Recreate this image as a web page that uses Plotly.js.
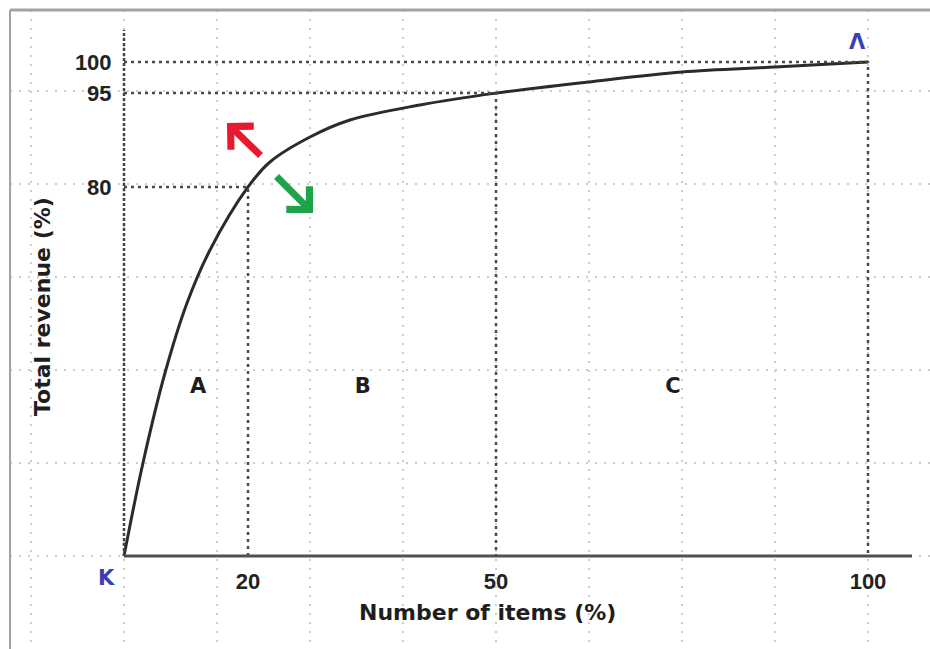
<!DOCTYPE html>
<html>
<head>
<meta charset="utf-8">
<script src="https://cdn.plot.ly/plotly-3.0.1.min.js"></script>
<style>html,body{margin:0;padding:0;background:#fff;}#chart{width:930px;height:649px;}</style>
</head>
<body>
<div id="chart"></div>
<script>
// ---- data (axis units: share of axis length, 0..100) ----
const itemsPct   = [0, 2.55, 5.51, 8.47, 11.56, 16.67, 19.62, 25.0, 30.38, 39.78, 50.0, 62.37, 75.0, 87.5, 100];
const revenuePct = [0, 18.83, 37.04, 51.21, 61.94, 74.7, 79.76, 84.82, 88.26, 91.30, 93.7, 95.95, 97.98, 98.99, 100];

const xTickVals = [16.67, 50, 100];
const xTickText = ['20', '50', '100'];
const yTickVals = [74.7, 93.7, 100];
const yTickText = ['80', '95', '100'];

const zoneLabels = ['A', 'B', 'C'];
const zoneX = [9.95, 32.1, 73.8];
const zoneY = [34, 34, 34];

const xTitle = 'Number of items (%)';
const yTitle = 'Total revenue (%)';
const startLabel = 'K';
const endLabel = 'Λ';

// ---- traces ----
const traces = [];

// threshold reference lines (dark dotted)
for (let i = 0; i < xTickVals.length; i++) {
  traces.push({
    type: 'scatter', mode: 'lines',
    x: [0, xTickVals[i], xTickVals[i]],
    y: [yTickVals[i], yTickVals[i], 0],
    xaxis: 'x2', yaxis: 'y2',
    line: {color: '#4a4a4a', width: 2.5, dash: '3px,4px'},
    hoverinfo: 'skip', showlegend: false
  });
}

// cumulative curve
traces.push({
  type: 'scatter', mode: 'lines',
  x: itemsPct, y: revenuePct,
  line: {color: '#2b2b2b', width: 3, shape: 'spline', smoothing: 1},
  showlegend: false
});

// zone labels
traces.push({
  type: 'scatter', mode: 'text',
  x: zoneX, y: zoneY, text: zoneLabels,
  textfont: {family: 'DejaVu Sans', size: 21, color: '#1e1e1e', weight: 'bold'},
  hoverinfo: 'skip', showlegend: false
});

const xRange = [(10 - 124) / 7.44, (930 - 124) / 7.44];
const yRange = [(556 - 649) / 4.94, (556 - 10) / 4.94];
const xDom = [10 / 930, 1];
const yDom = [0, 639 / 649];

const tickFont = {family: 'Liberation Sans, Arial', size: 22, color: '#222', weight: 'bold'};

const layout = {
  width: 930, height: 649,
  margin: {l: 0, r: 0, t: 0, b: 0, pad: 0},
  paper_bgcolor: '#ffffff', plot_bgcolor: '#ffffff',
  xaxis: {
    domain: xDom, range: xRange, showgrid: true, tick0: 0, dtick: 12.5,
    gridcolor: '#cccccc', gridwidth: 2, griddash: '2px,7px',
    showticklabels: false, ticks: '', zeroline: false, showline: false, fixedrange: true
  },
  yaxis: {
    domain: yDom, range: yRange, showgrid: true, tick0: 0, dtick: 93 / 4.94,
    gridcolor: '#cccccc', gridwidth: 2, griddash: '2px,7px',
    showticklabels: false, ticks: '', zeroline: false, showline: false, fixedrange: true
  },
  xaxis2: {
    overlaying: 'x', anchor: 'free', position: (649 - 556) / 649,
    range: xRange, showgrid: false, zeroline: false, showline: false,
    tickmode: 'array', tickvals: xTickVals, ticktext: xTickText,
    ticks: 'outside', ticklen: 6, tickcolor: 'rgba(0,0,0,0)',
    tickfont: tickFont, fixedrange: true
  },
  yaxis2: {
    overlaying: 'y', anchor: 'free', position: 124 / 930,
    range: yRange, showgrid: false, zeroline: false, showline: false,
    tickmode: 'array', tickvals: yTickVals, ticktext: yTickText,
    ticks: 'outside', ticklen: 8, tickcolor: 'rgba(0,0,0,0)',
    tickfont: tickFont, fixedrange: true
  },
  shapes: [
    // page frame (top & left)
    {type: 'line', xref: 'paper', yref: 'paper', x0: 10/930, x1: 1, y0: 639/649, y1: 639/649,
     line: {color: '#a3a3a3', width: 3}},
    {type: 'line', xref: 'paper', yref: 'paper', x0: 10/930, x1: 10/930, y0: 0, y1: 639/649,
     line: {color: '#a3a3a3', width: 2}},
    // axes
    {type: 'line', xref: 'x', yref: 'y', x0: 0, x1: (912 - 124) / 7.44, y0: 0, y1: 0,
     line: {color: '#505050', width: 3}},
    {type: 'line', xref: 'x', yref: 'y', x0: 0, x1: 0, y0: 0, y1: (556 - 30) / 4.94,
     line: {color: '#454545', width: 2.5, dash: '3px,2px'}}
  ],
  annotations: [
    {xref: 'paper', yref: 'paper', x: 487 / 930, y: (649 - 612) / 649, text: xTitle, showarrow: false,
     font: {family: 'DejaVu Sans', size: 22, color: '#1e1e1e', weight: 'bold'}, xanchor: 'center', yanchor: 'middle'},
    {xref: 'paper', yref: 'paper', x: 42 / 930, y: (649 - 307) / 649, text: yTitle, showarrow: false, textangle: -90,
     font: {family: 'DejaVu Sans', size: 22, color: '#1e1e1e', weight: 'bold'}, xanchor: 'center', yanchor: 'middle'},
    {xref: 'x', yref: 'y', x: -2.3, y: -4.5, text: startLabel, showarrow: false,
     font: {family: 'DejaVu Sans', size: 21, color: '#3d3db5', weight: 'bold'}},
    {xref: 'x', yref: 'y', x: 98.6, y: 104.0, text: endLabel, showarrow: false,
     font: {family: 'DejaVu Sans', size: 21, color: '#3d3db5', weight: 'bold'}},
    // red arrow (up-left)
    {xref: 'x', yref: 'y', axref: 'x', ayref: 'y', x: 13.84, y: 87.65, ax: 18.55, ay: 80.77,
     text: '', showarrow: true, arrowhead: 4, arrowsize: 0.9, arrowwidth: 7, arrowcolor: '#e8192c',
     standoff: 0, startstandoff: 0},
    // green arrow (down-right)
    {xref: 'x', yref: 'y', axref: 'x', ayref: 'y', x: 25.4, y: 69.43, ax: 20.3, ay: 77.13,
     text: '', showarrow: true, arrowhead: 4, arrowsize: 0.9, arrowwidth: 7, arrowcolor: '#1fa34a',
     standoff: 0, startstandoff: 0}
  ]
};

Plotly.newPlot('chart', traces, layout, {displayModeBar: false, staticPlot: true});
</script>
</body>
</html>
